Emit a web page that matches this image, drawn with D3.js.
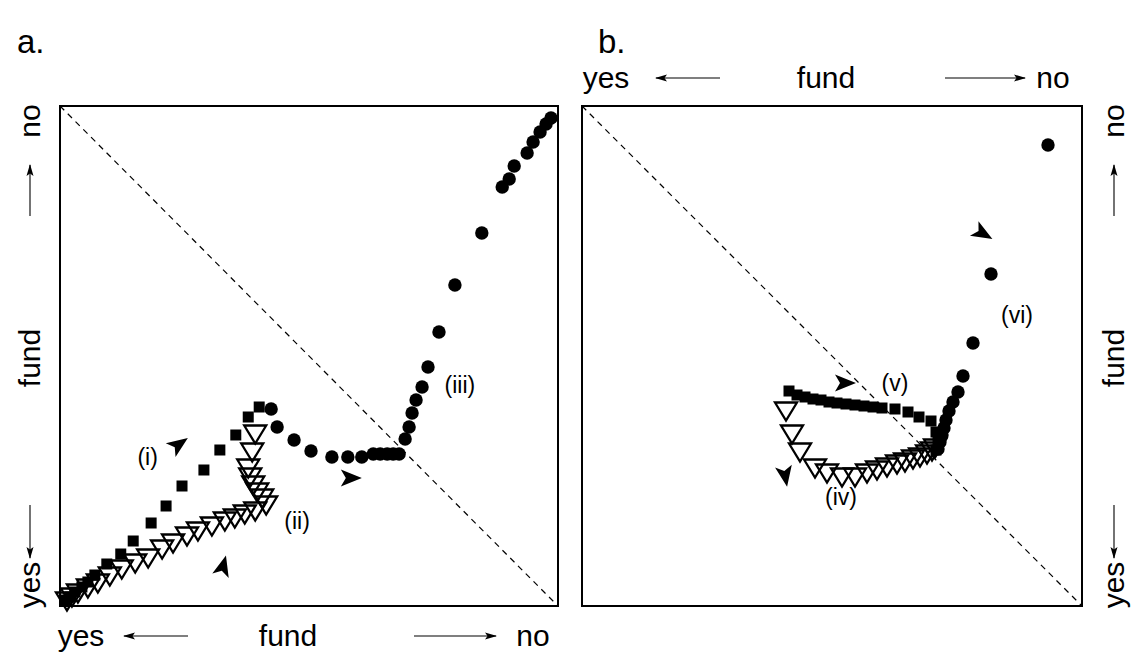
<!DOCTYPE html>
<html>
<head>
<meta charset="utf-8">
<script src="https://cdn.jsdelivr.net/npm/d3@7"></script>
<style>
  body { margin: 0; background: #fff; }
  text { font-family: "Liberation Sans", Arial, Helvetica, sans-serif; fill: #000; }
</style>
</head>
<body>
<div id="chart"></div>
<script>
const W = 1131, H = 653;

// both axes run 0 (yes) .. 1 (no)
// panel a
const aSquares = [
  [0.010, 0.012], [0.020, 0.018], [0.030, 0.028], [0.044, 0.038], [0.056, 0.048],
  [0.070, 0.062], [0.094, 0.084], [0.122, 0.104], [0.147, 0.130], [0.183, 0.166],
  [0.213, 0.200], [0.245, 0.240], [0.289, 0.272], [0.321, 0.312], [0.353, 0.342],
  [0.378, 0.378], [0.400, 0.398]
];
const aTriangles = [
  [0.014, 0.012], [0.024, 0.020], [0.036, 0.028], [0.056, 0.038], [0.076, 0.048],
  [0.100, 0.062], [0.124, 0.076], [0.151, 0.088], [0.177, 0.098], [0.205, 0.116],
  [0.227, 0.128], [0.255, 0.142], [0.277, 0.152], [0.305, 0.162], [0.331, 0.172],
  [0.351, 0.178], [0.371, 0.186], [0.392, 0.192], [0.414, 0.204], [0.406, 0.218],
  [0.396, 0.230], [0.388, 0.244], [0.382, 0.260], [0.378, 0.278], [0.386, 0.310],
  [0.392, 0.346]
];
const aCircles = [
  [0.424, 0.394], [0.436, 0.358], [0.470, 0.332], [0.504, 0.310], [0.546, 0.298],
  [0.578, 0.298], [0.606, 0.298], [0.629, 0.304], [0.643, 0.304], [0.657, 0.304],
  [0.669, 0.304], [0.681, 0.304], [0.693, 0.334], [0.701, 0.358], [0.707, 0.386],
  [0.715, 0.412], [0.727, 0.438], [0.739, 0.478], [0.761, 0.548], [0.793, 0.642],
  [0.847, 0.746], [0.888, 0.838], [0.902, 0.854], [0.912, 0.880], [0.938, 0.906],
  [0.950, 0.928], [0.964, 0.948], [0.976, 0.964], [0.986, 0.976]
];
const aTags = [
  {text: "(i)", x: 0.176, y: 0.298},
  {text: "(ii)", x: 0.476, y: 0.170},
  {text: "(iii)", x: 0.803, y: 0.442}
];
const aHeads = [
  {x: 0.237, y: 0.322, angle: -35},
  {x: 0.327, y: 0.078, angle: -75},
  {x: 0.582, y: 0.256, angle: 0}
];

// panel b
const bSquares = [
  [0.414, 0.430], [0.430, 0.422], [0.446, 0.418], [0.462, 0.414], [0.478, 0.412],
  [0.494, 0.408], [0.510, 0.406], [0.528, 0.404], [0.546, 0.402], [0.564, 0.400],
  [0.582, 0.398], [0.600, 0.396], [0.626, 0.394], [0.652, 0.388], [0.674, 0.378],
  [0.698, 0.370], [0.708, 0.348], [0.712, 0.328], [0.708, 0.312]
];
const bTriangles = [
  [0.408, 0.392], [0.420, 0.346], [0.436, 0.310], [0.466, 0.278], [0.490, 0.268],
  [0.520, 0.260], [0.546, 0.260], [0.570, 0.268], [0.590, 0.274], [0.610, 0.280],
  [0.630, 0.286], [0.646, 0.290], [0.662, 0.296], [0.676, 0.300], [0.690, 0.306],
  [0.700, 0.312], [0.706, 0.318]
];
const bCircles = [
  [0.932, 0.922], [0.818, 0.664], [0.782, 0.526], [0.762, 0.460], [0.752, 0.428],
  [0.742, 0.408], [0.734, 0.390], [0.728, 0.372], [0.724, 0.356], [0.720, 0.342],
  [0.716, 0.328], [0.712, 0.314]
];
const bTags = [
  {text: "(iv)", x: 0.518, y: 0.218},
  {text: "(v)", x: 0.626, y: 0.446},
  {text: "(vi)", x: 0.870, y: 0.582}
];
const bHeads = [
  {x: 0.524, y: 0.446, angle: 0},
  {x: 0.406, y: 0.262, angle: 80},
  {x: 0.800, y: 0.746, angle: 30}
];

const axisWords = ["yes", "fund", "no"];

const svg = d3.select("#chart")
  .append("svg")
    .attr("width", W)
    .attr("height", H);

const defs = svg.append("defs");
defs.append("marker")
    .attr("id", "tip")
    .attr("viewBox", "0 -5 12 10")
    .attr("refX", 11)
    .attr("refY", 0)
    .attr("markerWidth", 12)
    .attr("markerHeight", 10)
    .attr("markerUnits", "userSpaceOnUse")
    .attr("orient", "auto")
  .append("path")
    .attr("d", "M0,-3.5L12,0L0,3.5L2.5,0Z")
    .attr("fill", "#000");

const triPath = "M-11,-7.5L11,-7.5L0,10.5Z";
const dartPath = "M12,0L-9,-8.5L-4,0L-9,8.5Z";

function drawPanel(p) {
  const x = d3.scaleLinear().domain([0, 1]).range([p.left, p.right]);
  const y = d3.scaleLinear().domain([0, 1]).range([p.bottom, p.top]);
  const g = svg.append("g");

  g.append("line")
    .attr("x1", x(0)).attr("y1", y(1))
    .attr("x2", x(1)).attr("y2", y(0))
    .attr("stroke", "#000")
    .attr("stroke-width", 1.2)
    .attr("stroke-dasharray", "6 5");

  g.append("g")
    .selectAll("path")
    .data(p.triangles)
    .join("path")
      .attr("d", triPath)
      .attr("transform", d => `translate(${x(d[0])},${y(d[1])})`)
      .attr("fill", "none")
      .attr("stroke", "#000")
      .attr("stroke-width", 2.3);

  g.append("g")
    .selectAll("rect")
    .data(p.squares)
    .join("rect")
      .attr("x", d => x(d[0]) - 5.5)
      .attr("y", d => y(d[1]) - 5.5)
      .attr("width", 11)
      .attr("height", 11)
      .attr("fill", "#000");

  g.append("g")
    .selectAll("circle")
    .data(p.circles)
    .join("circle")
      .attr("cx", d => x(d[0]))
      .attr("cy", d => y(d[1]))
      .attr("r", 6.7)
      .attr("fill", "#000");

  g.append("g")
    .selectAll("path")
    .data(p.heads)
    .join("path")
      .attr("d", dartPath)
      .attr("transform", d => `translate(${x(d.x)},${y(d.y)}) rotate(${d.angle})`)
      .attr("fill", "#000");

  g.append("g")
    .selectAll("text")
    .data(p.tags)
    .join("text")
      .attr("x", d => x(d.x))
      .attr("y", d => y(d.y))
      .attr("text-anchor", "middle")
      .attr("dominant-baseline", "central")
      .style("font-size", "23px")
      .text(d => d.text);

  g.append("rect")
    .attr("x", p.left)
    .attr("y", p.top)
    .attr("width", p.right - p.left)
    .attr("height", p.bottom - p.top)
    .attr("fill", "none")
    .attr("stroke", "#000")
    .attr("stroke-width", 2);
}

// "yes <-- fund --> no" along a line; pos = positions along it
function axisCaption(g, pos) {
  g.append("text").attr("x", pos.yes).attr("text-anchor", "middle").text(axisWords[0]);
  g.append("text").attr("x", pos.fund).attr("text-anchor", "middle").text(axisWords[1]);
  g.append("text").attr("x", pos.no).attr("text-anchor", "middle").text(axisWords[2]);
  g.append("line")
    .attr("x1", pos.arrowL[0]).attr("x2", pos.arrowL[1])
    .attr("y1", pos.line).attr("y2", pos.line)
    .attr("stroke", "#000").attr("stroke-width", 1.1)
    .attr("marker-end", "url(#tip)");
  g.append("line")
    .attr("x1", pos.arrowR[0]).attr("x2", pos.arrowR[1])
    .attr("y1", pos.line).attr("y2", pos.line)
    .attr("stroke", "#000").attr("stroke-width", 1.1)
    .attr("marker-end", "url(#tip)");
  g.selectAll("text").style("font-size", "30px");
}

drawPanel({left: 60, right: 558, top: 106, bottom: 606,
  squares: aSquares, triangles: aTriangles, circles: aCircles, tags: aTags, heads: aHeads});
drawPanel({left: 582, right: 1082, top: 106, bottom: 606,
  squares: bSquares, triangles: bTriangles, circles: bCircles, tags: bTags, heads: bHeads});

// panel a, bottom
axisCaption(svg.append("g").attr("transform", "translate(0,646)"),
  {yes: 81, fund: 288, no: 533, line: -10, arrowL: [188, 124], arrowR: [414, 496]});
// panel b, top
axisCaption(svg.append("g").attr("transform", "translate(0,88)"),
  {yes: 606, fund: 826, no: 1053, line: -10, arrowL: [720, 656], arrowR: [945, 1025]});
// panel a, left (rotated: local x = -screen y)
axisCaption(svg.append("g").attr("transform", "translate(40,0) rotate(-90)"),
  {yes: -585, fund: -358, no: -121, line: -10, arrowL: [-505, -558], arrowR: [-216, -165]});
// panel b, right
axisCaption(svg.append("g").attr("transform", "translate(1124,0) rotate(-90)"),
  {yes: -585, fund: -358, no: -121, line: -10, arrowL: [-505, -558], arrowR: [-216, -165]});

svg.append("text").attr("x", 17).attr("y", 53).style("font-size", "33px").text("a.");
svg.append("text").attr("x", 598).attr("y", 53).style("font-size", "33px").text("b.");
</script>
</body>
</html>
